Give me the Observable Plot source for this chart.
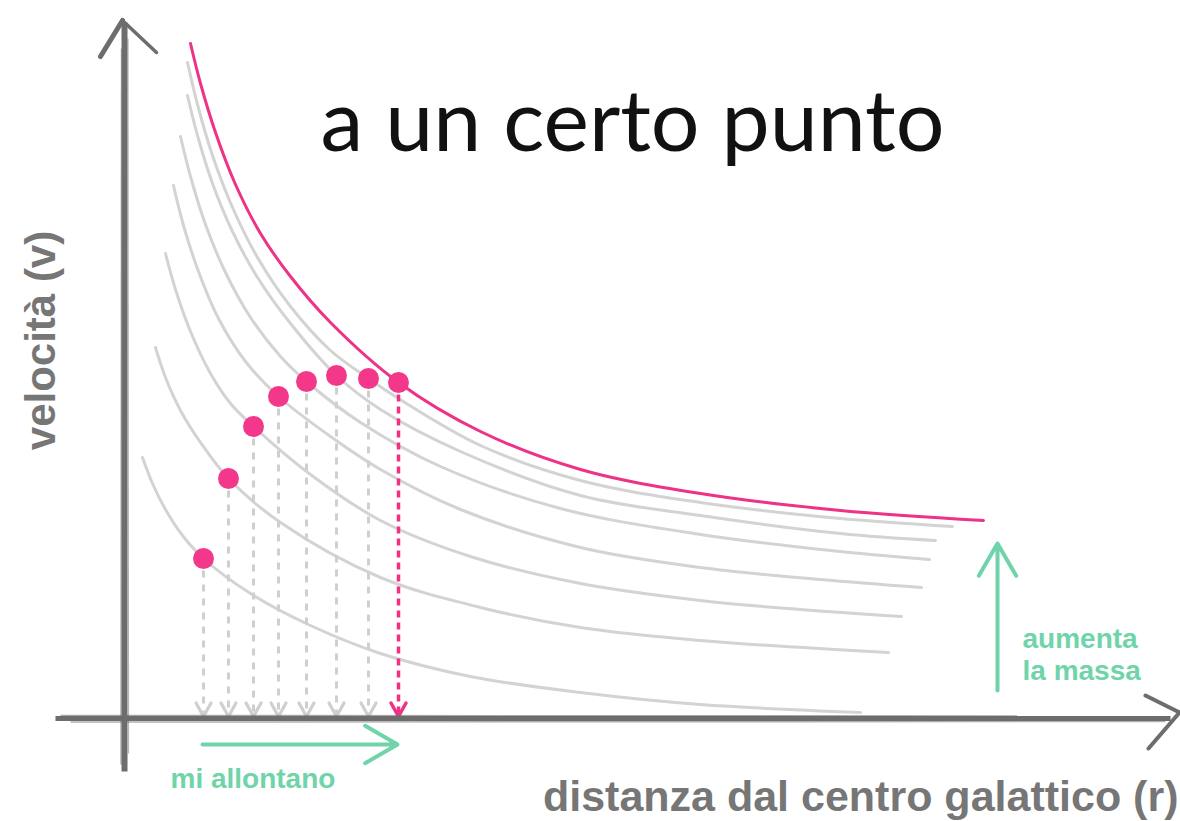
<!DOCTYPE html>
<html><head><meta charset="utf-8">
<script src="https://cdn.jsdelivr.net/npm/d3@7"></script>
<script src="https://cdn.jsdelivr.net/npm/@observablehq/plot@0.6"></script>
<style>html,body{margin:0;padding:0;background:#fff;overflow:hidden} #chart svg{display:block}</style>
</head><body><div id="chart"></div>
<script>
// ---- data (r = distanza, v = velocità, arbitrary units) ----
const curvaMassa = [[6.5,67.5],[7.5,63.5],[9.0,58.6],[11.0,53.4],[13.5,48.5],[16.5,44.2],[20.5,39.6],[27.3,33.6],[35.5,28.7],[45.5,24.9],[57.5,22.5],[71.5,20.8],[85.8,19.8]];
const curva1 = [[6.2,65.6],[7.2,61.4],[8.7,56.3],[10.7,51.1],[13.2,46.1],[16.5,41.2],[20.5,36.8],[24.3,34.0],[27.3,32.0],[35.5,27.3],[45.5,23.8],[57.5,21.6],[71.5,20.0],[82.7,19.2]];
const curva2 = [[6.2,62.3],[7.2,58.3],[8.7,53.5],[10.7,48.7],[13.2,44.1],[16.5,39.5],[21.1,34.3],[25.5,30.9],[33.5,26.7],[45.5,22.3],[57.5,20.3],[71.5,18.5],[81.0,17.8]];
const curva3 = [[5.5,58.2],[6.5,54.2],[8.0,49.4],[10.0,44.6],[12.5,40.1],[15.5,36.2],[18.1,33.7],[23.5,29.6],[31.5,25.2],[43.5,21.0],[57.5,18.4],[70.5,16.8],[80.4,15.9]];
const curva4 = [[4.8,53.3],[5.8,49.3],[7.3,44.7],[9.3,40.0],[12.0,35.7],[15.3,32.2],[20.5,28.2],[25.5,24.9],[33.5,20.9],[45.5,17.1],[57.5,15.1],[69.5,13.9],[79.6,13.1]];
const curva5 = [[4.0,46.5],[5.0,42.9],[6.5,38.7],[8.5,34.5],[10.5,31.5],[12.8,29.2],[18.5,24.4],[25.5,19.8],[34.5,16.2],[45.5,13.5],[57.5,11.8],[67.5,10.9],[77.6,10.2]];
const curva6 = [[3.0,37.1],[4.0,34.1],[5.5,30.8],[7.5,27.6],[10.3,24.0],[15.5,19.6],[25.5,14.1],[35.5,11.1],[45.5,9.1],[57.5,7.8],[76.3,6.6]];
const curva7 = [[1.7,26.1],[2.7,23.5],[4.0,20.9],[5.7,18.3],[7.8,16.0],[12.5,12.5],[18.5,9.3],[25.5,6.5],[34.5,4.2],[45.5,2.6],[57.5,1.4],[73.5,0.6]];

const puntiR = [7.8,10.3,12.8,15.3,18.1,21.1,24.3,27.3];
const puntiV = [16.0,24.0,29.2,32.2,33.7,34.3,34.0,33.6];

const titolo = "a un certo punto";
const etichettaX = "distanza dal centro galattico (r)";
const etichettaY = "velocità (v)";
const notaDistanza = "mi allontano";
const notaMassa = ["aumenta", "la massa"];

// ---- build tables ----
const grigie = [curva1, curva2, curva3, curva4, curva5, curva6, curva7];
const righeGrigie = grigie.flatMap((c, i) => c.map(([r, v]) => ({curva: i, r, v})));
const righeRosa = curvaMassa.map(([r, v]) => ({r, v}));
const punti = puntiR.map((r, i) => ({r, v: puntiV[i], ultimo: i === puntiR.length - 1}));
const puntiGrigi = punti.filter(d => !d.ultimo);
const puntoRosa = punti.filter(d => d.ultimo);

const pink = "#ee3286", dotPink = "#f3388b", grey = "#d3d3d3", axis = "#6d6d6d", green = "#6fd4a9", label = "#767676";

// arrowhead wings (chevron) drawn with links
const wings = (data, stroke, sw) => [
  Plot.link(data, {x1: d => d.r - 0.75, x2: "r", y1: 1.55, y2: 0.2, stroke, strokeWidth: sw, strokeLinecap: "round"}),
  Plot.link(data, {x1: d => d.r + 0.75, x2: "r", y1: 1.55, y2: 0.2, stroke, strokeWidth: sw, strokeLinecap: "round"})
];

const chart = Plot.plot({
  width: 1180, height: 821,
  marginLeft: 125, marginRight: 5, marginTop: 18, marginBottom: 103,
  x: {domain: [0, 105], axis: null},
  y: {domain: [0, 70], axis: null},
  style: {background: "#fff", overflow: "visible"},
  marks: [
    // gray mass curves
    Plot.line(righeGrigie, {x: "r", y: "v", z: "curva", stroke: grey, strokeWidth: 3, curve: "catmull-rom", strokeLinecap: "round"}),
    // dashed drop lines with arrowheads
    Plot.link(puntiGrigi, {x1: "r", x2: "r", y1: d => d.v - 1.2, y2: 0.5, stroke: "#cfcfcf", strokeWidth: 3, strokeDasharray: "7,7"}),
    ...wings(puntiGrigi, "#cfcfcf", 3.2),
    Plot.link(puntoRosa, {x1: "r", x2: "r", y1: d => d.v - 1.2, y2: 0.5, stroke: pink, strokeWidth: 3.5, strokeDasharray: "7,5"}),
    ...wings(puntoRosa, pink, 3.5),
    // pink curve
    Plot.line(righeRosa, {x: "r", y: "v", stroke: pink, strokeWidth: 3, curve: "catmull-rom", strokeLinecap: "round"}),
    // dots
    Plot.dot(punti, {x: "r", y: "v", r: 10.5, fill: dotPink}),
    // hand-drawn axes
    Plot.link([0], {x1: -7, x2: 104.5, y1: 0, y2: 0, stroke: axis, strokeWidth: 5}),
    Plot.link([0], {x1: -6.5, x2: 103, y1: 0.3, y2: 0.25, stroke: axis, strokeWidth: 1.5, strokeOpacity: 0.6}),
    Plot.link([0], {x1: -5.5, x2: 104, y1: -0.35, y2: -0.3, stroke: axis, strokeWidth: 1.5, strokeOpacity: 0.55}),
    Plot.link([0], {x1: -0.1, x2: -0.1, y1: -5.3, y2: 69.6, stroke: axis, strokeWidth: 6}),
    Plot.link([0], {x1: -0.45, x2: -0.4, y1: -4.6, y2: 67, stroke: axis, strokeWidth: 1.5, strokeOpacity: 0.55}),
    Plot.link([0], {x1: 0.3, x2: 0.25, y1: -3.5, y2: 68, stroke: axis, strokeWidth: 1.2, strokeOpacity: 0.5}),
    Plot.link([0], {x1: -2.5, x2: -0.3, y1: 66.2, y2: 69.8, stroke: axis, strokeWidth: 5, strokeLinecap: "round"}),
    Plot.link([0], {x1: -0.3, x2: 3.1, y1: 69.8, y2: 66.6, stroke: axis, strokeWidth: 3.5, strokeLinecap: "round"}),
    Plot.link([0], {x1: 102.0, x2: 105.4, y1: 2.3, y2: 0.6, stroke: axis, strokeWidth: 4, strokeLinecap: "round"}),
    Plot.link([0], {x1: 105.4, x2: 102.3, y1: 0.6, y2: -3.0, stroke: axis, strokeWidth: 4, strokeLinecap: "round"}),
    // green arrows
    Plot.arrow([0], {x1: 7.7, x2: 27.2, y1: -2.6, y2: -2.6, stroke: green, strokeWidth: 4, headLength: 14}),
    Plot.arrow([0], {x1: 87.2, x2: 87.2, y1: 2.8, y2: 17.5, stroke: green, strokeWidth: 4, headLength: 14}),
    // texts
    Plot.text([titolo], {x: 50.7, y: 59.5, text: d => d, fontSize: 86, fontWeight: 400, fontFamily: "Lato", fill: "#111", textAnchor: "middle"}),
    Plot.text([etichettaX], {x: 105.3, y: -7.9, text: d => d, fontSize: 43, fontWeight: "bold", fontFamily: "Liberation Sans", fill: label, textAnchor: "end"}),
    Plot.text([etichettaY], {x: -8.4, y: 37.8, text: d => d, fontSize: 42, fontWeight: "bold", fontFamily: "Liberation Sans", fill: label, rotate: -90}),
    Plot.text([notaDistanza], {x: 4.5, y: -6.1, text: d => d, fontSize: 28, fontWeight: "bold", fontFamily: "Liberation Sans", fill: green, textAnchor: "start"}),
    Plot.text(notaMassa, {x: 89.7, y: (d, i) => [7.9, 4.7][i], text: d => d, fontSize: 28, fontWeight: "bold", fontFamily: "Liberation Sans", fill: green, textAnchor: "start"})
  ]
});
document.getElementById("chart").append(chart);
</script>
</body></html>
